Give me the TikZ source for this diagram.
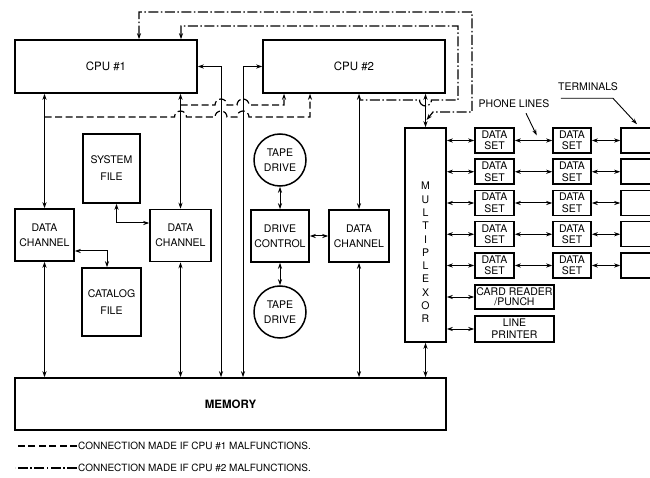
\documentclass[tikz,border=0pt]{standalone}
\usepackage{fontspec}
\setmainfont{TeX Gyre Heros}
\usetikzlibrary{arrows.meta,positioning}

\tikzset{
  unitbox/.style={draw, line width=1.5pt, align=center, inner sep=1pt,
    font=\fontsize{10.5}{15}\selectfont},
  tapebox/.style={unitbox, circle, minimum size=52pt},
  dsetbox/.style={unitbox, minimum width=39pt, minimum height=25pt,
    font=\fontsize{10.5}{11.5}\selectfont},
  link/.style={line width=1pt, <->},
  failone/.style={line width=1.2pt, dash pattern=on 7pt off 3.5pt},
  failtwo/.style={line width=1.2pt, dash pattern=on 10pt off 2.5pt on 1.5pt off 2.5pt},
  note/.style={inner sep=1pt, font=\fontsize{10.5}{11}\selectfont},
}

\begin{document}
\begin{tikzpicture}[x=1pt, y=-1pt, >={Stealth[length=6pt,width=4pt]}]
  \useasboundingbox (0,0) rectangle (650,478);
  \clip (0,0) rectangle (650,478);

  % processors and memory
  \node[unitbox, minimum width=182pt, minimum height=53pt, font=\fontsize{11.5}{13}\selectfont] (cpu1) at (106,66.5) {CPU \#1};
  \node[unitbox, minimum width=182pt, minimum height=53pt, font=\fontsize{11.5}{13}\selectfont] (cpu2) at (354,66.5) {CPU \#2};
  \node[unitbox, minimum width=431pt, minimum height=52pt, font=\fontsize{11.5}{13}\selectfont\bfseries] (mem) at (230.5,404) {MEMORY};

  % channels, files, tapes
  \node[unitbox, minimum width=59pt, minimum height=52pt] (dc1) at (44.5,235) {DATA\\CHANNEL};
  \node[unitbox, minimum width=61pt, minimum height=52pt] (dc2) at (180.5,235.5) {DATA\\CHANNEL};
  \node[unitbox, minimum width=60pt, minimum height=52pt] (dc3) at (359,236) {DATA\\CHANNEL};
  \node[unitbox, minimum width=57pt, minimum height=69pt] (sysf) at (111.5,168.5) {SYSTEM\\[2pt]FILE};
  \node[unitbox, minimum width=59pt, minimum height=68pt] (catf) at (111.5,302) {CATALOG\\[2pt]FILE};
  \node[unitbox, minimum width=58pt, minimum height=52pt] (drvc) at (280,236) {DRIVE\\CONTROL};
  \node[tapebox] (tape1) at (280,160) {TAPE\\DRIVE};
  \node[tapebox] (tape2) at (280,312) {TAPE\\DRIVE};

  % multiplexor and its lines
  \node[unitbox, minimum width=41pt, minimum height=214pt] (mux) at (425.5,235) {};
  \node[font=\fontsize{10.5}{13.3}\selectfont, align=center] (muxlbl) at (425.5,252.5) {M\\U\\L\\T\\I\\P\\L\\E\\X\\O\\R};
  \foreach \r [count=\i] in {140.5,171.75,203,234.25,265.5} {
    \node[dsetbox] (dsa\i) at (494.5,\r) {DATA\\SET};
    \node[dsetbox, minimum width=38pt] (dsb\i) at (572,\r) {DATA\\SET};
    \node[unitbox, minimum width=40pt, minimum height=25pt] (term\i) at (641,\r) {};
    \draw[link] (mux.east |- dsa\i.west) -- (dsa\i.west);
    \draw[link] (dsa\i.east) -- (dsb\i.west);
    \draw[link] (dsb\i.east) -- (term\i.west);
  }
  \node[unitbox, minimum width=79pt, minimum height=24pt, font=\fontsize{10.5}{10}\selectfont] (crp) at (514.5,297) {CARD READER\\/PUNCH};
  \node[unitbox, minimum width=79pt, minimum height=26pt, font=\fontsize{10.5}{12}\selectfont] (lpr) at (514.5,329) {LINE\\PRINTER};
  \draw[link] (mux.east |- crp.west) -- (crp.west);
  \draw[link] (mux.east |- lpr.west) -- (lpr.west);
  \draw[link] (mux.south) -- (mux.south |- mem.north);

  \node[note] (phone) at (514,104) {PHONE LINES};
  \node[note] (terms) at (588,87) {TERMINALS};
  \draw[->, line width=0.9pt] ([xshift=12pt,yshift=-4pt]phone.south) -- ([xshift=22pt,yshift=5pt]dsa1.east);
  \draw[->, line width=0.9pt] ([xshift=4pt,yshift=-6pt]terms.south west) -- ++(52pt,0) -- ([xshift=-4pt,yshift=3pt]term1.north);

  % normal connections
  \coordinate (bus1) at (221,0);
  \coordinate (bus2) at (243,0);
  \draw[link] (cpu1.east) -| (bus1 |- mem.north);
  \draw[link] (cpu2.west) -| (bus2 |- mem.north);
  \draw[link] (cpu1.south -| dc1.north) -- (dc1.north);
  \draw[link] (cpu1.south -| dc2.north) -- (dc2.north);
  \draw[link] (cpu2.south -| dc3.north) -- (dc3.north);
  \draw[link] (cpu2.south -| mux.north) -- (mux.north);
  \draw[link] (dc1.south) -- (dc1.south |- mem.north);
  \draw[link] (dc2.south) -- (dc2.south |- mem.north);
  \draw[link] (dc3.south) -- (dc3.south |- mem.north);
  \draw[link] ([xshift=5pt]sysf.south) |- ([yshift=12.5pt]dc2.west);
  \draw[link] ([yshift=-16pt]dc1.east) -| ([xshift=-4.5pt]catf.north);
  \draw[link] (tape1) -- (drvc);
  \draw[link] (drvc) -- (tape2);
  \draw[link] (drvc) -- (dc3);

  % CPU #1 malfunctions
  \coordinate (ja) at (180.5,105);
  \coordinate (jb) at (44.5,117);
  \draw[failone, ->] (ja) -- (215,105) arc[start angle=180, end angle=0, radius=6pt]
    -- (237,105) arc[start angle=180, end angle=0, radius=6pt] -| ([xshift=-70pt]cpu2.south);
  \draw[failone, ->] (jb) -- (174.5,117) arc[start angle=180, end angle=0, radius=6pt]
    -- (215,117) arc[start angle=180, end angle=0, radius=6pt]
    -- (237,117) arc[start angle=180, end angle=0, radius=6pt] -| ([xshift=-44pt]cpu2.south);

  % CPU #2 malfunctions
  \coordinate (jc) at (426.5,120);
  \coordinate (jd) at (359,100);
  \draw[failtwo, <->] ([xshift=33pt]cpu1.north) |- (472,12) |- (433,112) -- (jc);
  \draw[failtwo, <-] ([xshift=75pt]cpu1.north) |- (458,26) |- (431.5,100)
    arc[start angle=0, end angle=-180, radius=6pt] -- (jd);

  % legend
  \node[note, anchor=west, font=\fontsize{10}{11}\selectfont] (leg1) at (77,446) {CONNECTION MADE IF CPU \#1 MALFUNCTIONS.};
  \node[note, anchor=west, font=\fontsize{10}{11}\selectfont] (leg2) at (77,468) {CONNECTION MADE IF CPU \#2 MALFUNCTIONS.};
  \draw[failone] (leg1.west) -- ++(-62pt,0);
  \draw[failtwo] (leg2.west) -- ++(-62pt,0);
\end{tikzpicture}
\end{document}
